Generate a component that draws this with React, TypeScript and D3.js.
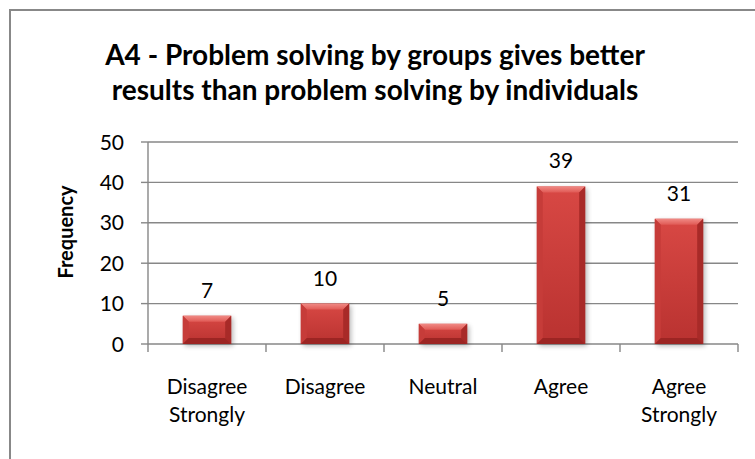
import React from "react";
import * as d3 from "d3";

const categories: string[][] = [
  ["Disagree", "Strongly"],
  ["Disagree"],
  ["Neutral"],
  ["Agree"],
  ["Agree", "Strongly"],
];
const frequencies: number[] = [7, 10, 5, 39, 31];
const yTicks: number[] = [0, 10, 20, 30, 40, 50];
const titleLines: string[] = [
  "A4 - Problem solving by groups gives better",
  "results than problem solving by individuals",
];
const yAxisTitle = "Frequency";

const W = 755;
const H = 459;
const FONT = "Lato, 'Open Sans', sans-serif";
const GRID = "#878787";

export default function App() {
  const plot = { left: 148, right: 738, top: 142, bottom: 344 };
  const keys = categories.map((c) => c.join(" "));
  const x = d3
    .scaleBand<string>()
    .domain(keys)
    .range([plot.left, plot.right])
    .paddingInner(0)
    .paddingOuter(0);
  const y = d3.scaleLinear().domain([0, 50]).range([plot.bottom, plot.top]);
  const barW = x.bandwidth() * 0.41;
  const bevel = 6;

  const boundaries = d3.range(categories.length + 1).map((i) => plot.left + i * x.bandwidth());

  return (
    <svg
      width={W}
      height={H}
      style={{ position: "absolute", left: 0, top: 0, background: "#fff" }}
      fontFamily={FONT}
    >
      <defs>
        <linearGradient id="face" x1="0" y1="0" x2="0" y2="1">
          <stop offset="0" stopColor="#d84844" />
          <stop offset="1" stopColor="#b93230" />
        </linearGradient>
        <linearGradient id="topFacet" x1="0" y1="0" x2="0" y2="1">
          <stop offset="0" stopColor="#f08a85" />
          <stop offset="1" stopColor="#e05a55" />
        </linearGradient>
        <filter id="shadow" x="-30%" y="-30%" width="160%" height="160%">
          <feGaussianBlur stdDeviation="2.5" />
        </filter>
      </defs>

      <rect x={10} y={10} width={W + 20} height={H + 20} fill="#fff" stroke="#888" strokeWidth={2} />

      <text textAnchor="middle" fontWeight="bold" fontSize={28} fill="#000">
        {titleLines.map((t, i) => (
          <tspan key={i} x={375} y={65 + i * 35}>
            {t}
          </tspan>
        ))}
      </text>

      {/* horizontal gridlines */}
      {yTicks.map((t) => (
        <line key={t} x1={plot.left} x2={plot.right} y1={y(t)} y2={y(t)} stroke={GRID} strokeWidth={1.4} />
      ))}

      {/* y axis */}
      <line x1={plot.left} x2={plot.left} y1={plot.top} y2={plot.bottom} stroke={GRID} strokeWidth={1.4} />
      {yTicks.map((t) => (
        <g key={"yt" + t}>
          <line x1={plot.left - 7} x2={plot.left} y1={y(t)} y2={y(t)} stroke={GRID} strokeWidth={1.4} />
          <text x={124} y={y(t) + 7.5} textAnchor="end" fontSize={21} fill="#000">
            {t}
          </text>
        </g>
      ))}

      {/* category ticks */}
      {boundaries.map((bx, i) => (
        <line key={"xt" + i} x1={bx} x2={bx} y1={plot.bottom} y2={plot.bottom + 8} stroke={GRID} strokeWidth={1.4} />
      ))}

      <text
        transform={`translate(73, 232) rotate(-90)`}
        textAnchor="middle"
        fontWeight="bold"
        fontSize={20}
        fill="#000"
      >
        {yAxisTitle}
      </text>

      {/* bars */}
      {frequencies.map((v, i) => {
        const cx = (x(keys[i]) as number) + x.bandwidth() / 2;
        const x0 = cx - barW / 2;
        const x1 = cx + barW / 2;
        const y0 = y(v);
        const y1 = y(0);
        const b = Math.min(bevel, (y1 - y0) / 2);
        return (
          <g key={"bar" + i}>
            <rect x={x0 + 2} y={y0 + 2} width={barW} height={y1 - y0} fill="#000" opacity={0.28} filter="url(#shadow)" />
            <rect x={x0} y={y0} width={barW} height={y1 - y0} fill="url(#face)" />
            <polygon points={`${x0},${y0} ${x1},${y0} ${x1 - b},${y0 + b} ${x0 + b},${y0 + b}`} fill="url(#topFacet)" />
            <polygon points={`${x0},${y0} ${x0 + b},${y0 + b} ${x0 + b},${y1 - b} ${x0},${y1}`} fill="#c63c39" />
            <polygon points={`${x1},${y0} ${x1 - b},${y0 + b} ${x1 - b},${y1 - b} ${x1},${y1}`} fill="#a82a28" />
            <polygon points={`${x0},${y1} ${x0 + b},${y1 - b} ${x1 - b},${y1 - b} ${x1},${y1}`} fill="#9c2523" />
            <text x={cx} y={y0 - 18} textAnchor="middle" fontSize={21} fill="#000">
              {v}
            </text>
          </g>
        );
      })}

      {/* category labels */}
      {categories.map((lines, i) => {
        const cx = (x(keys[i]) as number) + x.bandwidth() / 2;
        return (
          <text key={"cl" + i} textAnchor="middle" fontSize={21} fill="#000">
            {lines.map((l, j) => (
              <tspan key={j} x={cx} y={394 + j * 28}>
                {l}
              </tspan>
            ))}
          </text>
        );
      })}
    </svg>
  );
}
